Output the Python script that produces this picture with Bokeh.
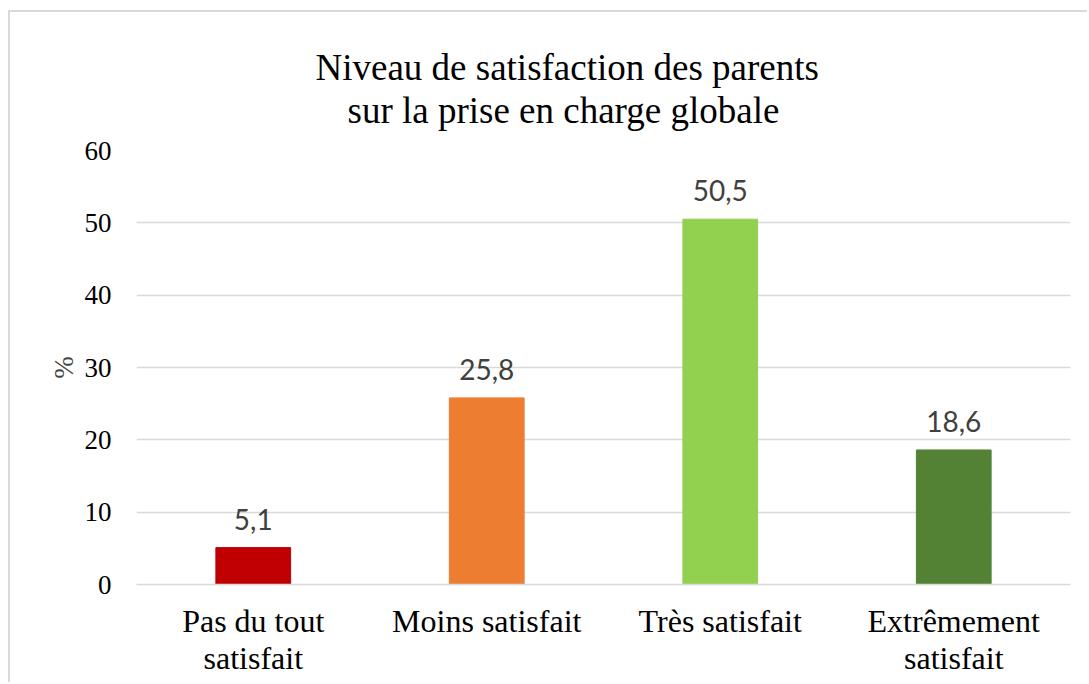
from bokeh.plotting import figure
from bokeh.models import ColumnDataSource, LabelSet, LinearAxis, Title, FixedTicker
from bokeh.core.properties import value
from bokeh.embed import file_html
from bokeh.resources import INLINE

categories = ["Pas du tout satisfait", "Moins satisfait", "Très satisfait", "Extrêmement satisfait"]
tick_labels = ["Pas du tout\nsatisfait", "Moins satisfait", "Très satisfait", "Extrêmement\nsatisfait"]
values = [5.1, 25.8, 50.5, 18.6]
colors = ["#C00000", "#ED7D31", "#92D050", "#548235"]
y_ticks = [0, 10, 20, 30, 40, 50, 60]
title_lines = ["Niveau de satisfaction des parents", "sur la prise en charge globale"]
y_label = "%"

n = len(categories)
xpos = list(range(1, n + 1))
labels = [f"{v:.1f}".replace(".", ",") for v in values]
line1 = {x: t.split("\n")[0] for x, t in zip(xpos, tick_labels)}
line2 = {x: (t.split("\n")[1] if "\n" in t else "") for x, t in zip(xpos, tick_labels)}
src = ColumnDataSource(dict(x=xpos, cat=categories, val=values, color=colors, label=labels))

p = figure(x_range=(0.5, n + 0.5), y_range=(0, 60),
           width=1079, height=672, output_backend="svg", toolbar_location=None,
           min_border_left=126, min_border_right=19, min_border_top=138, min_border_bottom=100)

p.vbar(x="x", top="val", width=0.32, color="color", source=src)

p.add_layout(LabelSet(x="x", y="val", text="label", source=src, text_align="center",
                      text_baseline="alphabetic", y_offset=18, text_font=value("Lato"),
                      text_font_size=value("28px"), text_color="#404040"))

serif = "Liberation Serif"

def style_x(ax, lab, standoff):
    ax.ticker = FixedTicker(ticks=xpos)
    ax.major_label_overrides = lab
    ax.major_label_text_font = serif
    ax.major_label_text_font_size = "32px"
    ax.major_label_text_color = "black"
    ax.major_tick_line_color = None
    ax.minor_tick_line_color = None
    ax.major_label_standoff = standoff

style_x(p.xaxis[0], line1, 12)
p.xaxis[0].axis_line_color = "#d9d9d9"
p.xaxis[0].axis_line_width = 1.3

ax2 = LinearAxis()
style_x(ax2, line2, -8)
ax2.axis_line_color = None
p.add_layout(ax2, "below")

p.yaxis.ticker = y_ticks
p.yaxis.axis_line_color = None
p.yaxis.major_tick_line_color = None
p.yaxis.minor_tick_line_color = None
p.yaxis.major_label_standoff = 19
p.yaxis.major_label_text_font = serif
p.yaxis.major_label_text_font_size = "27px"
p.yaxis.major_label_text_color = "black"
p.yaxis.axis_label = y_label
p.yaxis.axis_label_text_font = serif
p.yaxis.axis_label_text_font_style = "normal"
p.yaxis.axis_label_text_font_size = "27px"
p.yaxis.axis_label_standoff = 3

p.xgrid.grid_line_color = None
p.ygrid.grid_line_color = "#d9d9d9"
p.ygrid.grid_line_width = 1.3
p.outline_line_color = None

p.title = None
for t, off, so in zip(reversed(title_lines), [211, 179], [40, -40]):
    p.add_layout(Title(text=t, align="left", offset=off, text_font=serif,
                       text_font_size="37px", text_font_style="normal",
                       text_color="black", standoff=so), "above")

p.styles = {"margin-left": "8px", "margin-top": "10px",
            "border-left": "2px solid #d9d9d9", "border-top": "2px solid #d9d9d9"}

open("out.html", "w").write(file_html(p, INLINE))
